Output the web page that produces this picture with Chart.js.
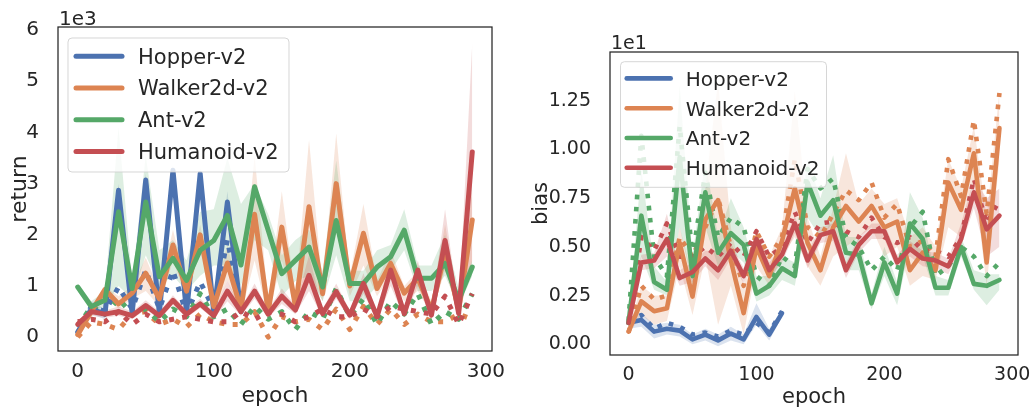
<!DOCTYPE html>
<html>
<head>
<meta charset="utf-8">
<script src="https://cdn.jsdelivr.net/npm/chart.js@4.4.0/dist/chart.umd.min.js"></script>
<style>
  html, body { margin: 0; padding: 0; background: #fff; }
  #wrap { position: relative; width: 1035px; height: 414px; }
  canvas { position: absolute; top: 0; }
</style>
</head>
<body>
<div id="wrap">
  <canvas id="returnChart" width="517" height="414" style="left:0"></canvas>
  <canvas id="biasChart" width="518" height="414" style="left:517px"></canvas>
</div>
<script>
// ---- data ----
const epochs = [0, 10, 20, 30, 40, 50, 60, 70, 80, 90, 100, 110, 120, 130, 140,
                150, 160, 170, 180, 190, 200, 210, 220, 230, 240, 250, 260, 270, 280, 290];
const envNames = ['Hopper-v2', 'Walker2d-v2', 'Ant-v2', 'Humanoid-v2'];
const xTicks = [0, 100, 200, 300];
const returnTicks = [0, 1, 2, 3, 4, 5, 6];
const biasTicks = [0, 0.25, 0.5, 0.75, 1.0, 1.25];

// return (x1e3)
const retHopper    = [0.1, 0.55, 0.45, 2.87, 0.47, 3.07, 0.47, 3.26, 0.47, 3.2, 0.47, 2.64, 0.5];
const retHopperLo  = [0.05, 0.45, 0.35, 2.7, 0.4, 2.9, 0.4, 3.1, 0.4, 3.0, 0.4, 2.3, 0.4];
const retHopperHi  = [0.15, 0.7, 0.55, 3.0, 0.6, 3.2, 0.6, 3.35, 0.6, 3.3, 0.6, 2.85, 0.7];
const retHopperDot = [0.08, 0.6, 0.5, 0.98, 0.55, 1.31, 0.55, 1.3, 0.45, 1.08, 0.55, 1.9, 0.55];

const retWalker    = [0.05, 0.5, 0.93, 0.65, 0.86, 1.25, 0.75, 1.8, 0.9, 2.0, 0.6, 1.45, 0.55, 2.4, 0.5,
                      2.15, 0.6, 2.55, 0.85, 3.0, 1.0, 2.03, 0.95, 1.44, 0.86, 1.15, 0.53, 1.65, 0.53, 2.29];
const retWalkerLo  = [0.0, 0.4, 0.8, 0.55, 0.75, 0.9, 0.6, 1.5, 0.75, 1.8, 0.45, 1.1, 0.45, 1.5, 0.4,
                      1.5, 0.5, 1.3, 0.7, 2.1, 0.8, 1.4, 0.8, 1.2, 0.7, 0.9, 0.45, 1.3, 0.45, 1.5];
const retWalkerHi  = [0.1, 0.6, 1.0, 0.8, 1.0, 1.55, 0.9, 2.1, 1.05, 2.2, 0.8, 1.8, 0.7, 3.55, 0.7,
                      2.85, 0.8, 3.85, 1.0, 3.98, 1.2, 2.6, 1.1, 1.7, 1.0, 1.3, 0.7, 2.2, 0.7, 2.9];
const retWalkerDot = [0.0, 0.3, 0.25, 0.15, 0.45, 0.5, 0.25, 0.35, 0.2, 0.45, 0.3, 0.25, 0.25, 0.5, 0.0,
                      0.4, 0.3, 0.35, 0.15, 0.55, 0.15, 0.6, 0.25, 0.55, 0.25, 0.45, 0.3, 0.3, 0.45, 0.35];

const retAnt    = [0.98, 0.6, 0.72, 2.45, 0.95, 2.64, 1.18, 1.54, 1.11, 1.7, 1.89, 2.38, 1.41, 2.94, 2.09,
                   1.24, 1.5, 1.76, 0.98, 2.28, 1.05, 1.05, 1.37, 1.57, 2.09, 1.15, 1.15, 1.44, 0.72, 1.37];
const retAntLo  = [0.9, 0.5, 0.6, 1.0, 0.75, 1.6, 1.0, 1.2, 0.9, 1.2, 1.4, 1.4, 1.0, 1.9, 1.7,
                   0.8, 1.1, 1.2, 0.7, 1.6, 0.7, 0.7, 1.0, 1.3, 1.7, 0.9, 0.9, 1.2, 0.6, 1.2];
const retAntHi  = [1.05, 0.7, 0.9, 4.1, 1.1, 3.55, 1.7, 1.9, 1.5, 2.45, 2.5, 3.5, 2.6, 3.0, 2.4,
                   1.6, 1.9, 2.1, 1.3, 3.45, 1.3, 1.3, 1.7, 1.8, 2.5, 1.4, 1.4, 2.0, 0.95, 1.5];
const retAntDot = [0.2, 0.6, 0.45, 0.75, 0.45, 0.55, 0.3, 0.55, 0.4, 0.85, 0.4, 0.55, 0.25, 0.6, 0.35,
                   0.5, 0.15, 0.5, 0.35, 0.95, 0.4, 0.75, 0.25, 0.7, 0.45, 0.85, 0.25, 0.5, 0.35, 0.85];

const retHumanoid    = [0.25, 0.5, 0.45, 0.5, 0.42, 0.62, 0.42, 0.72, 0.45, 0.65, 0.42, 0.9, 0.5, 0.9, 0.45,
                        0.8, 0.53, 1.21, 0.46, 0.89, 0.43, 1.05, 0.4, 1.31, 0.46, 1.31, 0.43, 1.89, 0.46, 3.62];
const retHumanoidLo  = [0.2, 0.42, 0.38, 0.42, 0.35, 0.54, 0.35, 0.63, 0.38, 0.57, 0.35, 0.7, 0.42, 0.75, 0.38,
                        0.65, 0.45, 0.9, 0.38, 0.75, 0.35, 0.85, 0.33, 1.0, 0.38, 1.0, 0.35, 1.4, 0.38, 1.5];
const retHumanoidHi  = [0.32, 0.58, 0.52, 0.6, 0.5, 0.72, 0.5, 0.82, 0.53, 0.75, 0.5, 1.1, 0.58, 1.05, 0.53,
                        0.95, 0.62, 1.6, 0.55, 1.05, 0.52, 1.25, 0.48, 1.6, 0.55, 1.5, 0.52, 2.5, 0.55, 5.75];
const retHumanoidDot = [0.3, 0.35, 0.3, 0.5, 0.25, 0.45, 0.3, 0.35, 0.4, 0.35, 0.3, 0.3, 0.5, 0.35, 0.5,
                        0.45, 0.3, 0.4, 0.55, 0.4, 0.4, 0.55, 0.4, 0.6, 0.55, 0.5, 0.45, 0.8, 0.25, 0.85];

// bias (x1e1)
const biasHopper    = [0.11, 0.125, 0.065, 0.08, 0.07, 0.025, 0.05, 0.02, 0.055, 0.025, 0.14, 0.05, 0.16];
const biasHopperLo  = [0.08, 0.09, 0.03, 0.05, 0.04, 0.0, 0.02, -0.01, 0.02, 0.0, 0.1, 0.02, 0.14];
const biasHopperHi  = [0.14, 0.16, 0.1, 0.11, 0.1, 0.05, 0.08, 0.05, 0.09, 0.05, 0.21, 0.08, 0.18];
const biasHopperDot = [0.12, 0.15, 0.08, 0.11, 0.09, 0.05, 0.06, 0.04, 0.07, 0.05, 0.11, 0.06, 0.17];

const biasWalker    = [0.065, 0.22, 0.17, 0.185, 0.52, 0.245, 0.64, 0.74, 0.43, 0.16, 0.5, 0.35, 0.53, 0.8, 0.52,
                       0.38, 0.6, 0.71, 0.63, 0.71, 0.6, 0.63, 0.38, 0.47, 0.38, 0.83, 0.69, 0.98, 0.42, 1.11];
const biasWalkerLo  = [0.05, 0.15, 0.1, 0.12, 0.4, 0.15, 0.45, 0.1, 0.3, 0.05, 0.4, 0.3, 0.45, 0.55, 0.4,
                       0.3, 0.45, 0.5, 0.55, 0.6, 0.45, 0.5, 0.3, 0.35, 0.33, 0.6, 0.55, 0.85, 0.3, 0.95];
const biasWalkerHi  = [0.08, 0.3, 0.25, 0.25, 0.6, 0.35, 0.8, 1.35, 0.6, 0.3, 0.6, 0.45, 0.6, 1.3, 0.65,
                       0.45, 0.7, 0.98, 0.72, 0.8, 0.72, 0.75, 0.55, 0.6, 0.5, 0.95, 0.8, 1.12, 0.65, 1.3];
const biasWalkerDot = [0.06, 0.3, 0.23, 0.25, 0.55, 0.45, 0.6, 0.75, 0.5, 0.3, 0.58, 0.45, 0.55, 0.95, 0.6,
                       0.55, 0.67, 0.79, 0.74, 0.83, 0.65, 0.72, 0.5, 0.53, 0.45, 0.95, 0.76, 1.15, 0.67, 1.29];

const biasAnt    = [0.11, 0.66, 0.32, 0.28, 0.96, 0.35, 0.78, 0.47, 0.57, 0.51, 0.26, 0.3, 0.39, 0.35, 0.83,
                    0.66, 0.74, 0.47, 0.46, 0.21, 0.42, 0.26, 0.62, 0.54, 0.29, 0.29, 0.5, 0.31, 0.3, 0.33];
const biasAntLo  = [0.09, 0.45, 0.28, 0.25, 0.6, 0.3, 0.6, 0.4, 0.48, 0.42, 0.22, 0.25, 0.33, 0.3, 0.65,
                    0.55, 0.62, 0.38, 0.38, 0.18, 0.35, 0.2, 0.5, 0.45, 0.25, 0.25, 0.45, 0.28, 0.2, 0.28];
const biasAntHi  = [0.13, 0.9, 0.4, 0.32, 1.33, 0.45, 0.95, 0.55, 0.75, 0.6, 0.35, 0.35, 0.45, 0.42, 0.95,
                    0.75, 0.97, 0.55, 0.55, 0.26, 0.5, 0.32, 0.78, 0.65, 0.35, 0.33, 0.55, 0.38, 0.36, 0.36];
const biasAntDot = [0.12, 1.07, 0.45, 0.35, 1.12, 0.45, 0.88, 0.55, 0.65, 0.6, 0.35, 0.3, 0.45, 0.4, 0.9,
                    0.8, 0.85, 0.55, 0.5, 0.38, 0.45, 0.38, 0.6, 0.68, 0.35, 0.4, 0.5, 0.45, 0.35, 0.42];

const biasHumanoid    = [0.11, 0.42, 0.43, 0.54, 0.34, 0.37, 0.44, 0.38, 0.48, 0.35, 0.54, 0.38, 0.46, 0.62, 0.43,
                         0.56, 0.58, 0.38, 0.51, 0.58, 0.58, 0.42, 0.49, 0.44, 0.43, 0.4, 0.54, 0.78, 0.59, 0.66];
const biasHumanoidLo  = [0.09, 0.38, 0.39, 0.45, 0.3, 0.32, 0.4, 0.33, 0.44, 0.31, 0.5, 0.34, 0.42, 0.57, 0.39,
                         0.52, 0.53, 0.34, 0.47, 0.54, 0.54, 0.38, 0.45, 0.4, 0.39, 0.36, 0.5, 0.7, 0.45, 0.5];
const biasHumanoidHi  = [0.13, 0.46, 0.47, 0.67, 0.38, 0.42, 0.48, 0.48, 0.52, 0.39, 0.58, 0.42, 0.5, 0.66, 0.47,
                         0.6, 0.62, 0.42, 0.55, 0.62, 0.62, 0.46, 0.53, 0.48, 0.47, 0.44, 0.62, 0.85, 0.75, 0.8];
const biasHumanoidDot = [0.1, 0.55, 0.48, 0.62, 0.45, 0.45, 0.5, 0.45, 0.52, 0.45, 0.58, 0.45, 0.5, 0.68, 0.52,
                         0.62, 0.63, 0.58, 0.55, 0.65, 0.55, 0.52, 0.55, 0.48, 0.48, 0.45, 0.55, 0.85, 0.62, 0.74];

// ---- style ----
const colors = ['#4C72B0', '#DD8452', '#55A868', '#C44E52'];
const textColor = '#262626';
const fontFamily = "'DejaVu Sans', sans-serif";

function rgba(hex, a) {
  const n = parseInt(hex.slice(1), 16);
  return `rgba(${n >> 16},${(n >> 8) & 255},${n & 255},${a})`;
}

function envDatasets(main, lo, hi, dot, color, rank, lw) {
  const pts = arr => arr.map((v, i) => ({ x: epochs[i], y: v }));
  const base = { pointRadius: 0, tension: 0, fill: false };
  return [
    { ...base, data: pts(lo), borderWidth: 0, order: 40 - rank },
    { ...base, data: pts(hi), borderWidth: 0, fill: '-1', backgroundColor: rgba(color, 0.2), order: 40 - rank },
    { ...base, data: pts(dot), borderColor: color, borderWidth: lw, borderDash: [lw, lw * 1.65],
      borderCapStyle: 'butt', borderJoinStyle: 'round', order: 20 - rank },
    { ...base, data: pts(main), borderColor: color, borderWidth: lw,
      borderCapStyle: 'round', borderJoinStyle: 'round', order: 10 - rank }
  ];
}

const decorPlugin = {
  id: 'decor',
  afterDatasetsDraw(chart) {
    const c = chart.options.plugins.decor;
    const ctx = chart.ctx;
    const a = chart.chartArea;
    ctx.save();
    // frame
    ctx.strokeStyle = textColor;
    ctx.lineWidth = 1.25;
    ctx.strokeRect(a.left, a.top, a.right - a.left, a.bottom - a.top);
    // legend
    const L = c.legend;
    const r = 4;
    ctx.beginPath();
    ctx.moveTo(L.x + r, L.y);
    ctx.arcTo(L.x + L.w, L.y, L.x + L.w, L.y + L.h, r);
    ctx.arcTo(L.x + L.w, L.y + L.h, L.x, L.y + L.h, r);
    ctx.arcTo(L.x, L.y + L.h, L.x, L.y, r);
    ctx.arcTo(L.x, L.y, L.x + L.w, L.y, r);
    ctx.closePath();
    ctx.fillStyle = 'rgba(255,255,255,0.8)';
    ctx.fill();
    ctx.strokeStyle = 'rgba(204,204,204,0.8)';
    ctx.lineWidth = 1;
    ctx.stroke();
    ctx.font = `${L.fontSize}px ${fontFamily}`;
    ctx.textBaseline = 'alphabetic';
    ctx.textAlign = 'left';
    envNames.forEach((name, i) => {
      const base = L.baseline0 + i * L.step;
      ctx.beginPath();
      ctx.strokeStyle = colors[i];
      ctx.lineWidth = c.lineWidth;
      ctx.lineCap = 'round';
      ctx.moveTo(L.lineX0, base - 7.3);
      ctx.lineTo(L.lineX1, base - 7.3);
      ctx.stroke();
      ctx.fillStyle = textColor;
      ctx.fillText(name, L.textX, base);
    });
    // axis titles and offset text
    ctx.fillStyle = textColor;
    ctx.font = `${c.titleSize}px ${fontFamily}`;
    ctx.textAlign = 'center';
    ctx.fillText('epoch', (a.left + a.right) / 2, c.xTitleBaseline);
    ctx.save();
    ctx.translate(c.yTitleBaselineX, (a.top + a.bottom) / 2);
    ctx.rotate(-Math.PI / 2);
    ctx.fillText(c.yTitle, 0, 0);
    ctx.restore();
    ctx.font = `${c.offsetSize}px ${fontFamily}`;
    ctx.textAlign = 'left';
    ctx.fillText(c.offsetText, a.left + 1, c.offsetBaseline);
    ctx.restore();
  }
};

function makeChart(id, datasets, cfg) {
  const tickFont = { family: fontFamily, size: cfg.tickSize };
  return new Chart(document.getElementById(id), {
    type: 'line',
    data: { datasets },
    options: {
      responsive: false,
      animation: false,
      devicePixelRatio: 1,
      layout: { padding: { left: 0, right: cfg.padRight, top: cfg.padTop, bottom: 0 } },
      plugins: {
        legend: { display: false },
        tooltip: { enabled: false },
        decor: cfg.decor
      },
      scales: {
        x: {
          type: 'linear', min: -14.5, max: 304.5,
          grid: { display: false }, border: { display: false },
          afterBuildTicks: s => { s.ticks = xTicks.map(v => ({ value: v })); },
          afterFit: s => { s.height = cfg.xHeight; },
          ticks: { font: tickFont, color: textColor, padding: 1, maxRotation: 0, autoSkip: false }
        },
        y: {
          type: 'linear', min: cfg.yMin, max: cfg.yMax,
          grid: { display: false }, border: { display: false },
          afterBuildTicks: s => { s.ticks = cfg.yTicks.map(v => ({ value: v })); },
          afterFit: s => { s.width = cfg.yWidth; },
          ticks: { font: tickFont, color: textColor, padding: 11, autoSkip: false,
                   callback: v => cfg.fmt(v) }
        }
      }
    },
    plugins: [decorPlugin]
  });
}

const returnSets = [].concat(
  envDatasets(retHopper, retHopperLo, retHopperHi, retHopperDot, colors[0], 0, 5),
  envDatasets(retWalker, retWalkerLo, retWalkerHi, retWalkerDot, colors[1], 1, 5),
  envDatasets(retAnt, retAntLo, retAntHi, retAntDot, colors[2], 2, 5),
  envDatasets(retHumanoid, retHumanoidLo, retHumanoidHi, retHumanoidDot, colors[3], 3, 5)
);
const biasSets = [].concat(
  envDatasets(biasHopper, biasHopperLo, biasHopperHi, biasHopperDot, colors[0], 0, 4.6),
  envDatasets(biasWalker, biasWalkerLo, biasWalkerHi, biasWalkerDot, colors[1], 1, 4.6),
  envDatasets(biasAnt, biasAntLo, biasAntHi, biasAntDot, colors[2], 2, 4.6),
  envDatasets(biasHumanoid, biasHumanoidLo, biasHumanoidHi, biasHumanoidDot, colors[3], 3, 4.6)
);

makeChart('returnChart', returnSets, {
  padRight: 25, padTop: 27, xHeight: 63, yWidth: 58,
  yMin: -0.27, yMax: 6.06, yTicks: returnTicks, fmt: v => String(v), tickSize: 20,
  decor: {
    legend: { x: 68, y: 38, w: 221, h: 134, lineX0: 76, lineX1: 122, textX: 138,
              baseline0: 63.5, step: 31.8, fontSize: 21 },
    lineWidth: 5,
    titleSize: 22, xTitleBaseline: 402, yTitle: 'return', yTitleBaselineX: 26,
    offsetText: '1e3', offsetSize: 20, offsetBaseline: 24.5
  }
});

makeChart('biasChart', biasSets, {
  padRight: 17, padTop: 52, xHeight: 59, yWidth: 93,
  yMin: -0.055, yMax: 1.5, yTicks: biasTicks, fmt: v => v.toFixed(2), tickSize: 19,
  decor: {
    legend: { x: 103.5, y: 61.7, w: 206, h: 125.6, lineX0: 109.7, lineX1: 153.7, textX: 168.7,
              baseline0: 85.7, step: 29.8, fontSize: 20 },
    lineWidth: 4.6,
    titleSize: 21, xTitleBaseline: 403, yTitle: 'bias', yTitleBaselineX: 30,
    offsetText: '1e1', offsetSize: 19, offsetBaseline: 48.5
  }
});
</script>
</body>
</html>
